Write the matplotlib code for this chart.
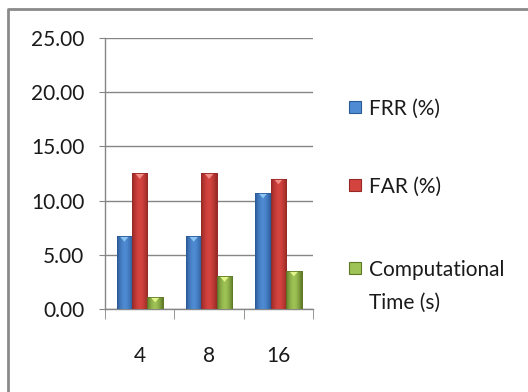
import matplotlib
matplotlib.use("Agg")
import matplotlib.pyplot as plt
import numpy as np
from matplotlib.lines import Line2D
from matplotlib.patches import Rectangle, Polygon
from matplotlib.colors import LinearSegmentedColormap

# window sizes on the x axis
categories = ["4", "8", "16"]
frr = [6.7, 6.7, 10.7]
far = [12.5, 12.5, 12.0]
comp_time = [1.1, 3.0, 3.5]

labels = ["FRR (%)", "FAR (%)", "Computational\nTime (s)"]
values = [frr, far, comp_time]
# (edge, centre, highlight) colours for each series
shades = [
    ("#2b5a98", "#4f8bd3", "#8cc4f2"),
    ("#962826", "#d4443f", "#f28d88"),
    ("#5e7a27", "#9fc356", "#e2f58a"),
]
y_ticks = [0, 5, 10, 15, 20, 25]

plt.rcParams['font.family'] = ['Lato', 'DejaVu Sans']

fig = plt.figure(figsize=(5.28, 3.92), dpi=100)
ax = fig.add_axes([0.199, 0.212, 0.394, 0.691])

x = np.arange(len(categories))
width = 0.667 / 3
grad = np.abs(np.linspace(-1, 1, 64))[None, :]
for i, (vals, (dark, mid, light)) in enumerate(zip(values, shades)):
    bars = ax.bar(x + (i - 1) * width, vals, width, color=mid, edgecolor=dark,
                  linewidth=0.6, zorder=3)
    cmap = LinearSegmentedColormap.from_list("bar%d" % i, [mid, dark])
    for b in bars:
        bx, bw, bh = b.get_x(), b.get_width(), b.get_height()
        im = ax.imshow(grad ** 1.6, extent=[bx, bx + bw, 0, bh], aspect="auto",
                       cmap=cmap, zorder=3.5, interpolation="bilinear")
        im.set_clip_path(b)
        # bevel highlight at the top of the bar
        tri = Polygon([[bx + bw * 0.2, bh], [bx + bw * 0.8, bh], [bx + bw * 0.5, bh - 0.5]],
                      closed=True, facecolor=light, edgecolor="none", zorder=4)
        ax.add_patch(tri)
        ax.add_patch(Rectangle((bx, 0), bw, bh, facecolor="none", edgecolor=dark,
                               linewidth=0.6, zorder=4))

ax.set_xlim(-0.5, len(categories) - 0.5)
ax.set_ylim(0, 25)
ax.set_yticks(y_ticks)
ax.set_yticklabels([f"{v:.2f}" for v in y_ticks])
ax.set_xticks(x)
ax.set_xticklabels(categories)
ax.set_xticks(np.arange(len(categories) + 1) - 0.5, minor=True)

ax.grid(axis="y", color="#868686", linewidth=1.0, zorder=0)
for s in ["top", "right"]:
    ax.spines[s].set_visible(False)
for s in ["left", "bottom"]:
    ax.spines[s].set_color("#868686")
    ax.spines[s].set_linewidth(1.0)

ax.tick_params(axis="y", length=4, color="#868686", pad=11, labelsize=15, labelcolor="#1a1a1a")
ax.tick_params(axis="x", which="major", length=0, pad=27, labelsize=15, labelcolor="#1a1a1a")
ax.tick_params(axis="x", which="minor", length=7, color="#868686")

# legend: marker lined up with the first line of each label
leg_rows = [1 - 107 / 392, 1 - 185 / 392, 1 - 268 / 392]
for label, row, (dark, mid, light) in zip(labels, leg_rows, shades):
    fig.add_artist(Rectangle((349 / 528, row - 6 / 392), 12 / 528, 12 / 392,
                             transform=fig.transFigure, facecolor=mid, edgecolor=dark,
                             linewidth=0.8))
    fig.text(369 / 528, row + 8 / 392, label, fontsize=15, color="#1a1a1a",
             va="top", ha="left", linespacing=1.8)

# chart area border (top and left edges only inside the frame)
fig.add_artist(Line2D([0.0145, 0.0145, 1.0], [0.0, 0.977, 0.977], transform=fig.transFigure,
                      color="#8a8a8a", linewidth=2.0))

fig.savefig("out.png", dpi=100)
